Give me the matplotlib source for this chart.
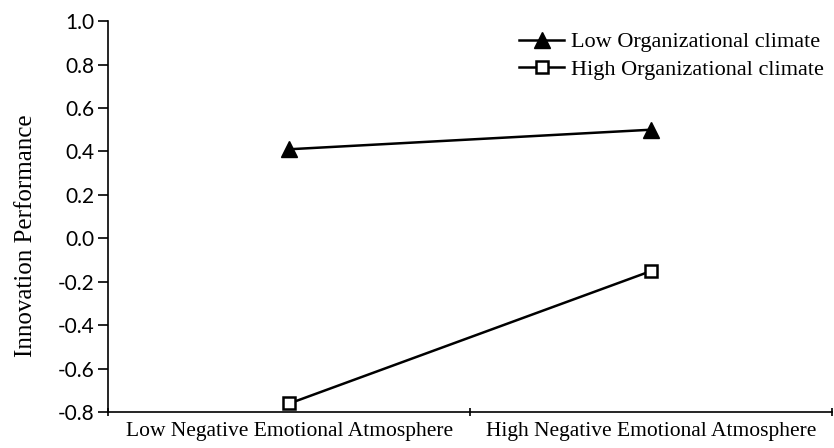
import matplotlib
matplotlib.use("Agg")
import matplotlib.pyplot as plt

categories = ["Low Negative Emotional Atmosphere", "High Negative Emotional Atmosphere"]
low_climate = [0.41, 0.50]
high_climate = [-0.76, -0.15]
series_names = ["Low Organizational climate", "High Organizational climate"]
y_ticks = [-0.8, -0.6, -0.4, -0.2, 0.0, 0.2, 0.4, 0.6, 0.8, 1.0]

serif = ["Liberation Serif", "DejaVu Serif"]

fig = plt.figure(figsize=(8.34, 4.48), dpi=100)
ax = fig.add_axes([0.13, 0.08, 0.868, 0.873])

x = list(range(len(categories)))
ax.plot(x, low_climate, color="black", lw=1.8, marker="^", markersize=11,
        label=series_names[0])
ax.plot(x, high_climate, color="black", lw=1.8, marker="s", markersize=9,
        markerfacecolor="white", markeredgewidth=1.8, label=series_names[1])

ax.set_xlim(-0.5, len(categories) - 0.5)
ax.set_ylim(-0.8, 1.0)
ax.set_yticks(y_ticks)
ax.set_yticklabels([f"{v:.1f}" for v in y_ticks], fontsize=15,
                   family=["Lato", "DejaVu Sans"])

# category boundaries get tick marks, labels sit in the middle
ax.set_xticks([i - 0.5 for i in range(len(categories) + 1)])
ax.set_xticklabels([])
ax.set_xticks(x, minor=True)
ax.set_xticklabels(categories, minor=True, fontsize=15.5, family=serif)
ax.tick_params(axis="x", which="minor", length=0, pad=7)
ax.tick_params(axis="x", which="major", length=6, width=1.2, direction="inout")
ax.tick_params(axis="y", length=7, width=1.2, direction="out", pad=3)

ax.spines["top"].set_visible(False)
ax.spines["right"].set_visible(False)
ax.spines["left"].set_linewidth(1.2)
ax.spines["bottom"].set_linewidth(1.2)

ax.set_ylabel("Innovation Performance", fontsize=18, family=serif)
ax.yaxis.set_label_coords(-0.099, 0.45)

ax.legend(loc="upper right", frameon=False, handlelength=2.0, handletextpad=0.3,
          labelspacing=0.3, borderaxespad=0.0, bbox_to_anchor=(1.0, 0.995),
          prop={"family": serif, "size": 16})

fig.savefig("out.png", dpi=100)
